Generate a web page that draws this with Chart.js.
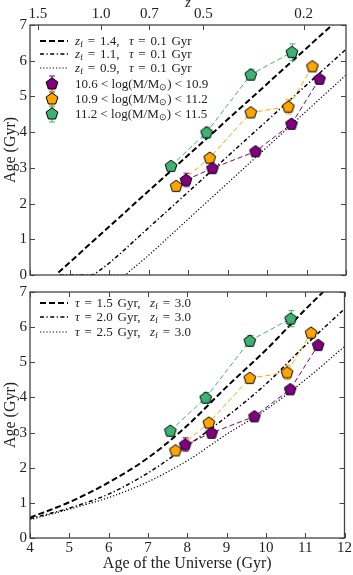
<!DOCTYPE html>
<html><head><meta charset="utf-8">
<script src="https://cdn.jsdelivr.net/npm/chart.js@4.4.1/dist/chart.umd.min.js"></script>
<style>
html,body{margin:0;padding:0;background:#fff;}
body{width:353px;height:575px;position:relative;overflow:hidden;font-family:"Liberation Serif",serif;color:#222;}
canvas{position:absolute;left:0;}
#top{top:0;} #bot{top:280px;}
.row{position:absolute;left:38px;height:14px;display:flex;align-items:center;font-size:13px;white-space:nowrap;line-height:14px;}
.row svg{width:36px;height:14px;flex:none;overflow:visible;}
.row span{margin-left:1px;}
.row span.m{word-spacing:1.5px;}
sub{font-size:9px;vertical-align:-2px;line-height:0;}
</style></head><body>
<canvas id="top" width="353" height="290"></canvas>
<canvas id="bot" width="353" height="295"></canvas>

<div class="row" style="top:34px"><svg><line x1="2" y1="7" x2="30" y2="7" stroke="#000" stroke-width="2" stroke-dasharray="6,3"/></svg><span class="m"><i>z</i><sub>f</sub> = 1.4,&nbsp; <i>τ</i> = 0.1 Gyr</span></div>
<div class="row" style="top:47px"><svg><line x1="2" y1="7" x2="30" y2="7" stroke="#000" stroke-width="1.5" stroke-dasharray="4,2.5,1.2,2.5"/></svg><span class="m"><i>z</i><sub>f</sub> = 1.1,&nbsp; <i>τ</i> = 0.1 Gyr</span></div>
<div class="row" style="top:61px"><svg><line x1="2" y1="7" x2="30" y2="7" stroke="#000" stroke-width="1.2" stroke-dasharray="1.2,2"/></svg><span class="m"><i>z</i><sub>f</sub> = 0.9,&nbsp; <i>τ</i> = 0.1 Gyr</span></div>
<div class="row" style="top:77px"><svg><g transform="translate(14,7)"><line y1="-8" y2="8" stroke="#800080"/><line x1="-3" x2="3" y1="-8" y2="-8" stroke="#800080"/><line x1="-3" x2="3" y1="8" y2="8" stroke="#800080"/><polygon points="0,-6.2 5.9,-1.9 3.6,5 -3.6,5 -5.9,-1.9" fill="#800080" stroke="#000" stroke-width="1"/></g></svg><span>10.6 &lt; log(M/M<sub>⊙</sub>) &lt; 10.9</span></div>
<div class="row" style="top:92px"><svg><g transform="translate(14,7)"><line y1="-8" y2="8" stroke="#FFA500"/><line x1="-3" x2="3" y1="-8" y2="-8" stroke="#FFA500"/><line x1="-3" x2="3" y1="8" y2="8" stroke="#FFA500"/><polygon points="0,-6.2 5.9,-1.9 3.6,5 -3.6,5 -5.9,-1.9" fill="#FFA500" stroke="#000" stroke-width="1"/></g></svg><span>10.9 &lt; log(M/M<sub>⊙</sub>) &lt; 11.2</span></div>
<div class="row" style="top:107px"><svg><g transform="translate(14,7)"><line y1="-8" y2="8" stroke="#3CB371"/><line x1="-3" x2="3" y1="-8" y2="-8" stroke="#3CB371"/><line x1="-3" x2="3" y1="8" y2="8" stroke="#3CB371"/><polygon points="0,-6.2 5.9,-1.9 3.6,5 -3.6,5 -5.9,-1.9" fill="#3CB371" stroke="#000" stroke-width="1"/></g></svg><span>11.2 &lt; log(M/M<sub>⊙</sub>) &lt; 11.5</span></div>

<div class="row" style="top:296px"><svg><line x1="2" y1="7" x2="30" y2="7" stroke="#000" stroke-width="2" stroke-dasharray="6,3"/></svg><span class="m"><i>τ</i> = 1.5 Gyr,&nbsp; <i>z</i><sub>f</sub> = 3.0</span></div>
<div class="row" style="top:310px"><svg><line x1="2" y1="7" x2="30" y2="7" stroke="#000" stroke-width="1.5" stroke-dasharray="4,2.5,1.2,2.5"/></svg><span class="m"><i>τ</i> = 2.0 Gyr,&nbsp; <i>z</i><sub>f</sub> = 3.0</span></div>
<div class="row" style="top:325px"><svg><line x1="2" y1="7" x2="30" y2="7" stroke="#000" stroke-width="1.2" stroke-dasharray="1.2,2"/></svg><span class="m"><i>τ</i> = 2.5 Gyr,&nbsp; <i>z</i><sub>f</sub> = 3.0</span></div>

<script>
// ---------------- data ----------------
const zTickLabels = ['1.5', '1.0', '0.7', '0.5', '0.2'];
const zTickAges   = [4.20, 5.80, 7.02, 8.39, 10.93];

// observed points: age of universe (Gyr), stellar age (Gyr), error
const tLow   = [7.95, 8.62, 9.71, 10.62, 11.33];
const ageLow = [2.66, 2.99, 3.46, 4.23, 5.49];
const errLow = [0.19, 0.08, 0.07, 0.08, 0.08];

const tMid   = [7.70, 8.55, 9.59, 10.54, 11.15];
const ageMid = [2.49, 3.28, 4.55, 4.71, 5.84];
const errMid = [0.06, 0.10, 0.08, 0.20, 0.10];

const tHigh   = [7.57, 8.47, 9.59, 10.63];
const ageHigh = [3.05, 3.99, 5.61, 6.24];
const errHigh = [0.06, 0.15, 0.15, 0.23];

// top panel models (burst, tau = 0.1 Gyr)
const tZf14   = [4.72, 6.0, 8.0, 10.0, 11.7];
const ageZf14 = [0.07, 1.35, 3.35, 5.35, 7.05];
const tZf11   = [4.75, 5.55, 5.75, 6.0, 7.0, 8.0, 10.0, 12.0];
const ageZf11 = [0.0, 0.0, 0.12, 0.33, 1.32, 2.32, 4.32, 6.32];
const tZf09   = [4.75, 6.37, 6.6, 6.8, 7.0, 8.0, 10.0, 12.0];
const ageZf09 = [0.0, 0.0, 0.18, 0.36, 0.55, 1.56, 3.58, 5.6];

// bottom panel models (z_f = 3)
const tTau15   = [4.0, 5.0, 6.0, 7.0, 8.0, 9.0, 10.0, 11.0, 11.5];
const ageTau15 = [0.58, 1.02, 1.58, 2.28, 3.2, 4.3, 5.35, 6.5, 7.05];
const tTau20   = [4.0, 5.0, 6.0, 7.0, 8.0, 9.0, 10.0, 11.0, 12.0];
const ageTau20 = [0.55, 0.85, 1.25, 1.85, 2.62, 3.45, 4.38, 5.48, 6.52];
const tTau25   = [4.0, 5.0, 6.0, 7.0, 8.0, 9.0, 10.0, 11.0, 12.0];
const ageTau25 = [0.52, 0.82, 1.15, 1.6, 2.2, 2.95, 3.65, 4.5, 5.45];

// ---------------- styling helpers ----------------
const PURPLE = '#800080', ORANGE = '#FFA500', GREEN = '#3CB371';
const TXT = '#222', FRAME = '#444', FONT = 'Liberation Serif';

function pent(color){
  const c = document.createElement('canvas'); c.width = 16; c.height = 16;
  const g = c.getContext('2d'); g.beginPath();
  for (let k = 0; k < 5; k++) {
    const a = -Math.PI/2 + k*2*Math.PI/5;
    const px = 8 + 6.2*Math.cos(a), py = 8.3 + 6.2*Math.sin(a);
    k ? g.lineTo(px, py) : g.moveTo(px, py);
  }
  g.closePath(); g.fillStyle = color; g.fill();
  g.lineWidth = 1; g.strokeStyle = '#000'; g.stroke();
  return c;
}
const pts = (xs, ys) => xs.map((x, i) => ({x, y: ys[i]}));

function obs(xs, ys, es, color){
  return {data: pts(xs, ys), showLine: true, borderColor: color, borderWidth: 1,
    borderDash: [5, 3], pointStyle: pent(color), pointRadius: 6,
    errors: es, errColor: color, tension: 0};
}
function model(xs, ys, dash, w){
  return {data: pts(xs, ys), showLine: true, borderColor: '#000', borderWidth: w,
    borderDash: dash, pointRadius: 0, cubicInterpolationMode: 'monotone'};
}

const errPlugin = {
  id: 'errbars',
  beforeDatasetDraw(chart, args){
    const ds = chart.data.datasets[args.index];
    if (!ds.errors) return;
    const ctx = chart.ctx, xs = chart.scales.x, ys = chart.scales.y;
    ctx.save(); ctx.strokeStyle = ds.errColor; ctx.lineWidth = 1; ctx.setLineDash([]);
    ctx.beginPath();
    ds.data.forEach((p, i) => {
      const e = ds.errors[i];
      const px = Math.round(xs.getPixelForValue(p.x)) + 0.5;
      const y1 = ys.getPixelForValue(p.y - e), y2 = ys.getPixelForValue(p.y + e);
      ctx.moveTo(px, y1); ctx.lineTo(px, y2);
      ctx.moveTo(px - 3, y1); ctx.lineTo(px + 3, y1);
      ctx.moveTo(px - 3, y2); ctx.lineTo(px + 3, y2);
    });
    ctx.stroke(); ctx.restore();
  }
};

const framePlugin = {
  id: 'frame',
  afterDatasetsDraw(chart, args, opts){
    const {ctx, chartArea: a} = chart;
    const xs = chart.scales.x, ys = chart.scales.y;
    const xt = opts.topScale ? chart.scales[opts.topScale] : xs;
    const L = 5;
    ctx.save(); ctx.setLineDash([]); ctx.strokeStyle = FRAME; ctx.lineWidth = 1;
    ctx.beginPath();
    xs.ticks.forEach(t => { const p = Math.round(xs.getPixelForValue(t.value)) + 0.5; ctx.moveTo(p, a.bottom); ctx.lineTo(p, a.bottom - L); });
    xt.ticks.forEach(t => { const p = Math.round(xt.getPixelForValue(t.value)) + 0.5; ctx.moveTo(p, a.top); ctx.lineTo(p, a.top + L); });
    ys.ticks.forEach(t => { const p = Math.round(ys.getPixelForValue(t.value)) + 0.5;
      ctx.moveTo(a.left, p); ctx.lineTo(a.left + L, p); ctx.moveTo(a.right, p); ctx.lineTo(a.right - L, p); });
    ctx.stroke();
    ctx.lineWidth = 1.3;
    ctx.strokeRect(a.left, a.top, a.right - a.left, a.bottom - a.top);
    ctx.restore();
  }
};

// adjust layout padding so the plot area lands on the wanted box
function pin(chart, box){
  for (let k = 0; k < 5; k++) {
    const a = chart.chartArea, p = chart.options.layout.padding;
    const dT = Math.round(box.top - a.top), dB = Math.round(a.bottom - box.bottom);
    const dL = Math.round(box.left - a.left), dR = Math.round(a.right - box.right);
    if (!dT && !dB && !dL && !dR) break;
    p.top += dT; p.bottom += dB; p.left += dL; p.right += dR;
    chart.update();
  }
}

const tickFont = {family: FONT, size: 15, weight: 'normal'};
const titleFont = {family: FONT, size: 16, weight: 'normal'};

function yScale(){
  return {type: 'linear', min: 0, max: 7,
    ticks: {stepSize: 1, font: tickFont, color: TXT, padding: 3},
    grid: {display: false, drawTicks: false}, border: {display: false},
    title: {display: true, text: 'Age (Gyr)', font: titleFont, color: TXT, padding: {top: 1, bottom: 0}},
    afterFit(s){ s.width = 30; }};
}

const baseOpts = {responsive: false, animation: false, events: [],
  plugins: {legend: {display: false}, tooltip: {enabled: false}}};

// ---------------- top chart ----------------
const topChart = new Chart(document.getElementById('top'), {
  type: 'scatter',
  data: {datasets: [
    obs(tLow, ageLow, errLow, PURPLE),
    obs(tMid, ageMid, errMid, ORANGE),
    obs(tHigh, ageHigh, errHigh, GREEN),
    model(tZf14, ageZf14, [6, 3], 2),
    model(tZf11, ageZf11, [4, 2.5, 1.2, 2.5], 1.5),
    model(tZf09, ageZf09, [1.2, 2], 1.2)
  ]},
  options: Object.assign({}, baseOpts, {
    layout: {padding: {left: 0, right: 6, top: 0, bottom: 0}},
    plugins: Object.assign({}, baseOpts.plugins, {frame: {topScale: 'xTop'}}),
    scales: {
      x: {type: 'linear', position: 'bottom', min: 4, max: 12,
        ticks: {display: false, stepSize: 1}, grid: {display: false, drawTicks: false}, border: {display: false},
        afterFit(s){ s.height = 5; }},
      xTop: {type: 'linear', position: 'top', min: 4, max: 12,
        ticks: {font: tickFont, color: TXT, padding: 2, autoSkip: false, maxRotation: 0,
          callback: (v, i) => zTickLabels[i]},
        afterBuildTicks(s){ s.ticks = zTickAges.map(v => ({value: v})); },
        grid: {display: false, drawTicks: false}, border: {display: false},
        title: {display: true, text: 'z', font: {family: FONT, size: 14, style: 'italic'}, color: TXT, padding: {top: -5, bottom: 0}},
        afterFit(s){ s.height = 25; }},
      y: yScale()
    }
  }),
  plugins: [errPlugin, framePlugin]
});
pin(topChart, {left: 30, right: 347, top: 25, bottom: 275});

// ---------------- bottom chart ----------------
const botChart = new Chart(document.getElementById('bot'), {
  type: 'scatter',
  data: {datasets: [
    obs(tLow, ageLow, errLow, PURPLE),
    obs(tMid, ageMid, errMid, ORANGE),
    obs(tHigh, ageHigh, errHigh, GREEN),
    model(tTau15, ageTau15, [6, 3], 2),
    model(tTau20, ageTau20, [4, 2.5, 1.2, 2.5], 1.5),
    model(tTau25, ageTau25, [1.2, 2], 1.2)
  ]},
  options: Object.assign({}, baseOpts, {
    layout: {padding: {left: 0, right: 6, top: 8, bottom: 0}},
    plugins: Object.assign({}, baseOpts.plugins, {frame: {}}),
    scales: {
      x: {type: 'linear', position: 'bottom', min: 4, max: 12,
        ticks: {stepSize: 1, font: tickFont, color: TXT, padding: 1, maxRotation: 0},
        grid: {display: false, drawTicks: false}, border: {display: false},
        title: {display: true, text: 'Age of the Universe (Gyr)', font: titleFont, color: TXT, padding: {top: 0, bottom: 2}},
        afterFit(s){ s.height = 37; }},
      y: yScale()
    }
  }),
  plugins: [errPlugin, framePlugin]
});
pin(botChart, {left: 30, right: 347, top: 8, bottom: 258});
</script>
</body></html>
